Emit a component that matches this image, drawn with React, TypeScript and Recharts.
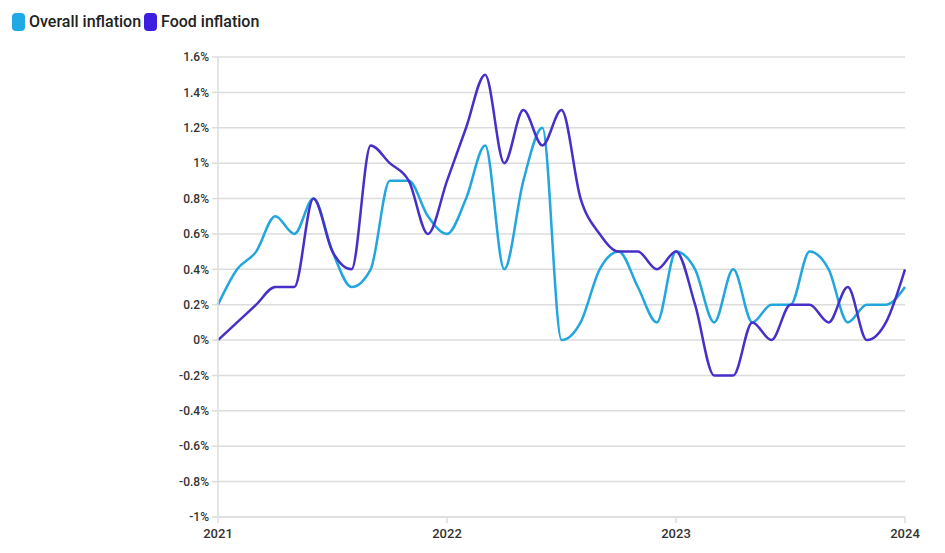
import { CartesianGrid, Line, LineChart, XAxis, YAxis } from "recharts";

// months since Jan 2021, one point per month
const months = Array.from({ length: 37 }, (_, i) => i);
const overall = [
  0.2, 0.4, 0.5, 0.7, 0.6, 0.8, 0.5, 0.3, 0.4, 0.9, 0.9, 0.7,
  0.6, 0.8, 1.1, 0.4, 0.9, 1.2, 0, 0.1, 0.4, 0.5, 0.3, 0.1,
  0.5, 0.4, 0.1, 0.4, 0.1, 0.2, 0.2, 0.5, 0.4, 0.1, 0.2, 0.2,
  0.3,
];
const food = [
  0, 0.1, 0.2, 0.3, 0.3, 0.8, 0.5, 0.4, 1.1, 1.0, 0.9, 0.6,
  0.9, 1.2, 1.5, 1.0, 1.3, 1.1, 1.3, 0.8, 0.6, 0.5, 0.5, 0.4,
  0.5, 0.2, -0.2, -0.2, 0.1, 0, 0.2, 0.2, 0.1, 0.3, 0, 0.1,
  0.4,
];
const yearTicks = [0, 12, 24, 36];
const yearLabels = ["2021", "2022", "2023", "2024"];
const yTicks = [-1, -0.8, -0.6, -0.4, -0.2, 0, 0.2, 0.4, 0.6, 0.8, 1, 1.2, 1.4, 1.6];

const series = [
  { key: "overall", name: "Overall inflation", color: "#22a6dd", swatch: "#1faae6" },
  { key: "food", name: "Food inflation", color: "#4630c8", swatch: "#3d1ee0" },
];

const data = months.map((m, i) => ({ m, overall: overall[i], food: food[i] }));

const App = () => {
  return (
    <div style={{ position: "absolute", left: 0, top: 0, width: 945, height: 553, background: "#fff", fontFamily: "Roboto, sans-serif" }}>
      <div style={{ position: "absolute", left: 12, top: 12, display: "flex", alignItems: "center", fontSize: 16, fontWeight: 500, color: "#222" }}>
        {series.map((s) => (
          <span key={s.key} style={{ display: "flex", alignItems: "center", marginRight: 3 }}>
            <span style={{ width: 13, height: 18, borderRadius: 4, background: s.swatch, marginRight: 4 }} />
            {s.name}
          </span>
        ))}
      </div>
      <LineChart width={945} height={553} data={data} margin={{ top: 57, right: 40, bottom: 6, left: 0 }}>
        <CartesianGrid vertical={false} stroke="#dcdcdc" strokeWidth={1.5} />
        <XAxis
          dataKey="m"
          type="number"
          domain={[0, 36]}
          ticks={yearTicks}
          tickFormatter={(v) => yearLabels[yearTicks.indexOf(v)]}
          stroke="#dcdcdc"
          strokeWidth={1.5}
          tickSize={6}
          tickMargin={6}
          tick={{ fill: "#333", fontSize: 13, fontWeight: 500 }}
          height={30}
        />
        <YAxis
          width={218}
          domain={[-1, 1.6]}
          ticks={yTicks}
          interval={0}
          tickFormatter={(v) => `${v}%`}
          stroke="#dcdcdc"
          strokeWidth={1.5}
          tickSize={6}
          tickMargin={3}
          tick={{ fill: "#333", fontSize: 12, fontWeight: 500 }}
        />
        {series.map((s) => (
          <Line
            key={s.key}
            dataKey={s.key}
            name={s.name}
            type="monotone"
            stroke={s.color}
            strokeWidth={2.5}
            dot={false}
            isAnimationActive={false}
          />
        ))}
      </LineChart>
    </div>
  );
};

export default App;
